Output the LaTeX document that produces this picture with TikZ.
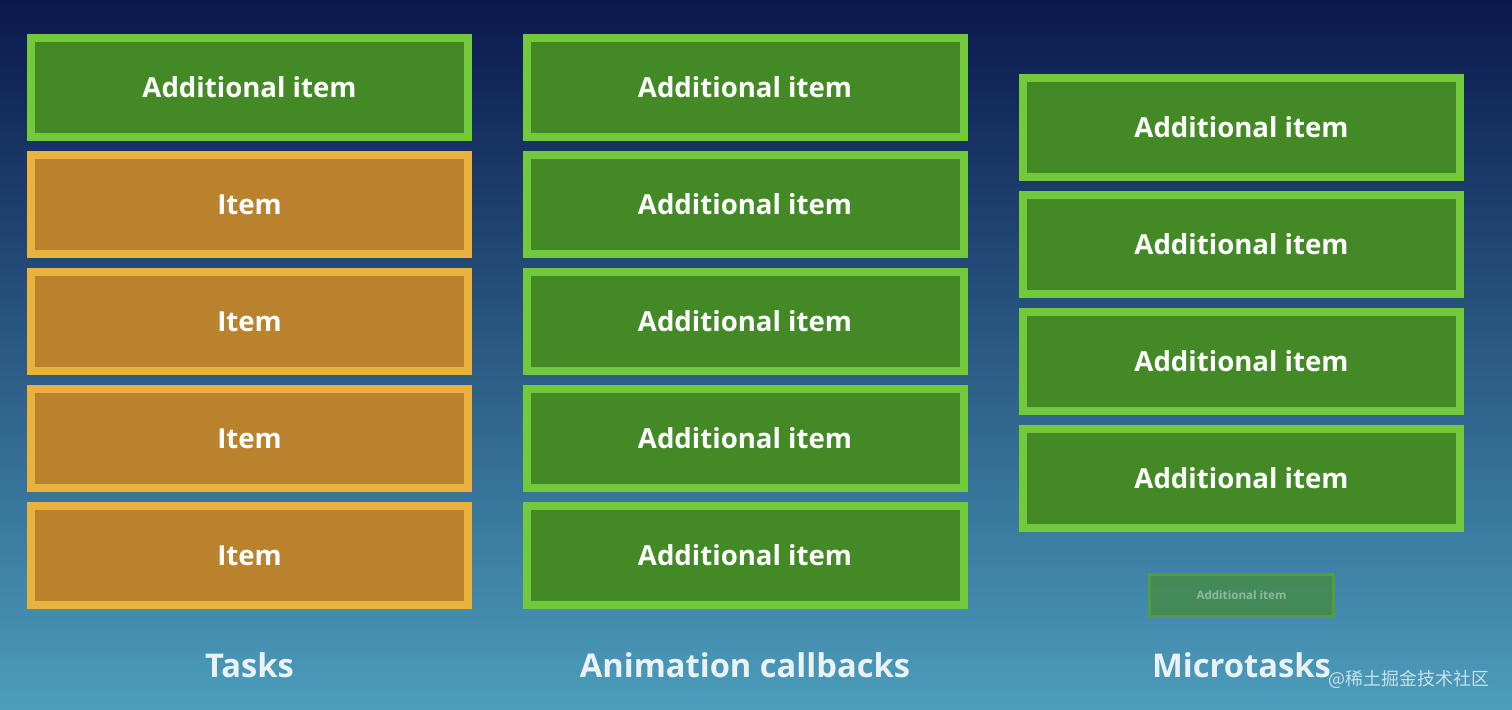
\documentclass[tikz,border=0pt]{standalone}
\usepackage{fontspec}
\setmainfont{Open Sans}
\newfontfamily\cjkfont{Noto Sans CJK SC}
\usetikzlibrary{positioning}
\definecolor{bgtop}{RGB}{10,24,78}
\definecolor{bgmid}{RGB}{36,88,146}
\definecolor{bgbot}{RGB}{76,157,188}
\definecolor{addfill}{RGB}{67,138,38}
\definecolor{addedge}{RGB}{114,201,59}
\definecolor{itmfill}{RGB}{187,130,46}
\definecolor{itmedge}{RGB}{233,178,63}
\definecolor{lbltext}{RGB}{234,242,246}
\tikzset{
  gbox/.style={rectangle, draw=addedge, line width=0.08cm, fill=addfill,
               minimum width=4.37cm, minimum height=0.99cm, inner sep=0pt,
               text=white, font=\fontsize{7.85}{10}\selectfont\bfseries},
  obox/.style={gbox, draw=itmedge, fill=itmfill},
  fade/.style={rectangle, draw=addedge!80!black, line width=0.03cm,
               fill=addfill!85!bgbot, fill opacity=0.75, draw opacity=0.8,
               minimum width=1.84cm, minimum height=0.42cm, inner sep=0pt,
               text=lbltext, text opacity=0.45, font=\fontsize{3.3}{4}\selectfont\bfseries},
  qname/.style={font=\fontsize{9.3}{12}\selectfont\bfseries, text=lbltext},
  wm/.style={font=\cjkfont\fontsize{5.1}{7}\selectfont, text=white, text opacity=0.7,
             anchor=east, inner sep=0pt},
}

\begin{document}
\begin{tikzpicture}
\useasboundingbox (0,0) rectangle (15.12,7.10);
\shade[top color=bgtop, middle color=bgmid, bottom color=bgbot] (0,0) rectangle (15.12,7.10);

%% =====================================================================
%% Tasks: one added item on top of the queued items
%% =====================================================================
\node[gbox] (t1) at (2.495,6.225) {Additional item};
\node[obox] (t2) at (2.495,5.055) {Item};
\node[obox] (t3) at (2.495,3.885) {Item};
\node[obox] (t4) at (2.495,2.715) {Item};
\node[obox] (t5) at (2.495,1.545) {Item};
\node[qname] (tq) at (2.495,0.45) {Tasks};

%% =====================================================================
%% Animation callbacks: every slot is an added item
%% =====================================================================
\node[gbox] (a1) at (7.45,6.225) {Additional item};
\node[gbox] (a2) at (7.45,5.055) {Additional item};
\node[gbox] (a3) at (7.45,3.885) {Additional item};
\node[gbox] (a4) at (7.45,2.715) {Additional item};
\node[gbox] (a5) at (7.45,1.545) {Additional item};
\node[qname] (aq) at (7.45,0.45) {Animation callbacks};

%% =====================================================================
%% Microtasks: four items, one more still arriving
%% =====================================================================
\node[gbox] (m1) at (12.415,5.825) {Additional item};
\node[gbox] (m2) at (12.415,4.655) {Additional item};
\node[gbox] (m3) at (12.415,3.485) {Additional item};
\node[gbox] (m4) at (12.415,2.315) {Additional item};
\node[fade] (m5) at (12.415,1.145) {Additional item};
\node[qname] (mq) at (12.415,0.45) {Microtasks};

%% watermark
\node[wm] (wmk) at (14.90,0.31) {@稀土掘金技术社区};

\end{tikzpicture}
\end{document}
